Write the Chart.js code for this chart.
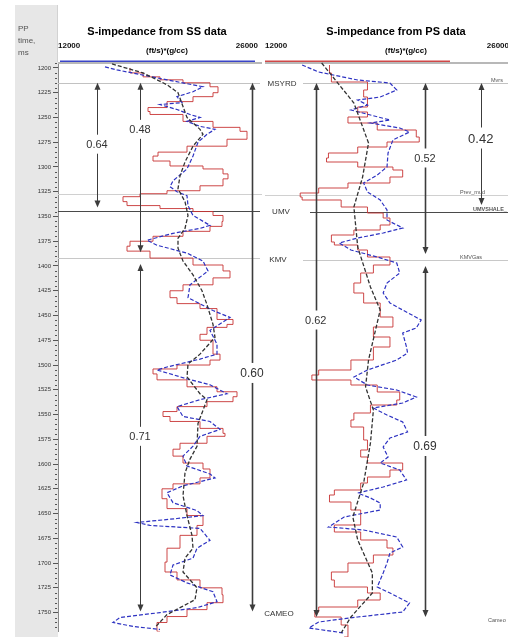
<!DOCTYPE html>
<html>
<head>
<meta charset="utf-8">
<script src="https://cdn.jsdelivr.net/npm/chart.js@4.4.1/dist/chart.umd.min.js"></script>
<style>
  html, body { margin: 0; padding: 0; background: #fff; }
  #wrap { position: relative; width: 508px; height: 637px; overflow: hidden; background: #fff; }
  canvas { position: absolute; top: 0; }
  #ssTrack { left: 0; }
  #psTrack { left: 262px; }
</style>
</head>
<body>
<div id="wrap">
  <canvas id="ssTrack" width="300" height="637"></canvas>
  <canvas id="psTrack" width="250" height="637"></canvas>
</div>
<script>
// time axis (PP time, ms) and impedance axis ticks
const timeTicks = [1200, 1225, 1250, 1275, 1300, 1325, 1350, 1375, 1400, 1425, 1450, 1475,
  1500, 1525, 1550, 1575, 1600, 1625, 1650, 1675, 1700, 1725, 1750];
const impedanceTicks = [12000, 26000];

// horizons
const horizonNames = ['MSYRD', 'Prev_mud', 'UMV', 'KMV', 'CAMEO'];
const horizonTimes = [1215, 1327, 1344, 1392, 1749];
const psHorizonNames = ['Mvrs', 'Prev_mud', 'UMVSHALE_', 'KMVGas', 'Cameo'];

// S-impedance from SS data: [impedance, time]
const ssLog = [[17040,1200],[17950,1205],[19140,1209],[20750,1212],[22640,1215],[23200,1219],[22850,1225],
  [21450,1229],[19630,1234],[18300,1240],[18440,1244],[20750,1247],[22850,1254],[24740,1260],[25230,1264],
  [25230,1269],[23830,1272],[21030,1279],[19000,1285],[18650,1289],[19840,1294],[22150,1299],[23550,1302],
  [23900,1307],[23550,1312],[21940,1319],[19630,1324],[17740,1327],[16550,1330],[16830,1335],[19140,1339],
  [21450,1342],[22850,1345],[23550,1349],[23480,1355],[22640,1360],[20750,1365],[18650,1370],[17040,1375],
  [16830,1380],[18440,1385],[21450,1392],[23550,1399],[24040,1405],[22850,1412],[20750,1419],[19840,1425],
  [20330,1432],[21940,1438],[23130,1443],[24250,1454],[23830,1459],[22430,1462],[21940,1469],[22850,1475],
  [23340,1489],[22640,1495],[20330,1500],[18650,1504],[18930,1509],[21030,1515],[23130,1522],[24530,1527],
  [24250,1532],[22430,1537],[20330,1542],[19350,1547],[19840,1552],[21940,1557],[23550,1564],[23690,1569],
  [22430,1572],[20540,1579],[20050,1585],[20750,1592],[22150,1599],[22640,1605],[21940,1614],[20050,1620],
  [19280,1625],[19630,1635],[21030,1645],[22150,1652],[21730,1662],[20540,1672],[19630,1685],[19490,1699],
  [20330,1709],[21940,1717],[23480,1725],[23550,1732],[22430,1740],[21030,1747],[19630,1754],[18930,1760],
  [19140,1769]];
const ssInverted = [[15290,1199],[16130,1202],[19630,1212],[22150,1219],[21450,1224],[20330,1229],[20680,1235],
  [19140,1237],[20330,1242],[21240,1247],[21940,1250],[21030,1254],[21940,1259],[22990,1262],[22430,1267],
  [21800,1275],[21450,1289],[21030,1302],[20050,1314],[19840,1320],[20330,1325],[21030,1329],[21100,1339],
  [21450,1349],[22640,1359],[21940,1362],[20050,1367],[18230,1374],[18930,1379],[21030,1387],[22150,1395],
  [22500,1405],[21240,1419],[21100,1432],[22850,1445],[24040,1452],[22640,1465],[23130,1479],[23130,1489],
  [21940,1494],[19630,1502],[18930,1505],[21030,1514],[22640,1520],[23830,1529],[21940,1535],[20330,1542],
  [20750,1552],[22640,1557],[23340,1565],[21940,1572],[21450,1582],[20750,1592],[21030,1602],[22640,1610],
  [22990,1614],[20750,1622],[19630,1629],[20050,1639],[21730,1647],[22150,1652],[20330,1655],[17530,1659],
  [18440,1662],[21940,1665],[22640,1677],[21730,1685],[21450,1695],[20050,1702],[19840,1712],[21030,1720],
  [22850,1729],[23130,1739],[21730,1745],[19140,1750],[16340,1755],[15850,1760],[17250,1764],[19140,1767]];
const ssTrend = [[15780,1196],[17950,1205],[19630,1217],[20400,1225],[20750,1239],[21030,1250],[21940,1262],
  [22150,1267],[21450,1279],[20890,1295],[20540,1309],[20400,1322],[20890,1335],[21100,1349],[20890,1362],
  [20400,1372],[20400,1382],[20750,1395],[21450,1409],[22080,1425],[22430,1439],[22850,1459],[22990,1472],
  [21940,1489],[21100,1499],[21030,1512],[21940,1529],[22430,1535],[21800,1559],[21730,1582],[21240,1595],
  [20890,1609],[20750,1632],[21030,1652],[21380,1672],[21450,1685],[20890,1695],[20750,1709],[21730,1725],
  [21590,1737],[19630,1752],[18790,1765]];

// S-impedance from PS data: [impedance, time]
const psLog = [[15700,1197],[15810,1205],[17880,1214],[17660,1222],[17880,1229],[17320,1239],[17880,1244],
  [16760,1249],[18440,1255],[20680,1262],[20850,1269],[19000,1274],[17320,1279],[15640,1285],[15530,1290],
  [17320,1294],[19340,1299],[19900,1302],[19170,1309],[16760,1315],[15080,1320],[14020,1325],[14130,1329],
  [16370,1332],[17880,1339],[18780,1345],[19170,1350],[18610,1357],[17100,1362],[15810,1367],[15980,1374],
  [17320,1377],[17880,1382],[19170,1389],[18220,1397],[17490,1405],[17100,1415],[17660,1425],[18610,1435],
  [19340,1449],[18220,1459],[19170,1469],[18220,1479],[16930,1492],[15080,1502],[14690,1507],[16930,1512],
  [18440,1517],[19730,1524],[19560,1532],[18050,1537],[17100,1545],[16930,1552],[17660,1559],[17880,1572],
  [17490,1582],[17880,1589],[19900,1595],[19170,1602],[17880,1609],[17490,1615],[15980,1622],[15700,1627],
  [16930,1634],[17490,1642],[17490,1650],[15980,1657],[17490,1664],[19000,1672],[19340,1680],[18220,1687],
  [16760,1695],[15810,1704],[15980,1712],[17880,1719],[18610,1725],[17320,1732],[15080,1739],[14860,1744],
  [16370,1749],[16760,1757],[16540,1769]];
const psInverted = [[14130,1197],[15080,1204],[17320,1212],[19170,1215],[19560,1222],[18610,1229],[17320,1232],
  [17880,1237],[16930,1242],[18050,1247],[19170,1252],[18050,1255],[19730,1260],[20290,1264],[19340,1272],
  [19060,1285],[19000,1299],[18440,1307],[17660,1315],[17880,1324],[18610,1332],[19000,1342],[19000,1352],
  [19900,1360],[18780,1365],[17320,1370],[16260,1375],[16930,1382],[18440,1389],[19560,1395],[19730,1405],
  [19000,1415],[18780,1425],[19170,1435],[19900,1442],[20960,1452],[20680,1460],[19900,1465],[20120,1479],
  [20180,1485],[19560,1492],[17880,1502],[17100,1509],[17880,1517],[19560,1522],[20680,1529],[19900,1535],
  [18220,1540],[19000,1547],[19900,1554],[20180,1564],[19170,1570],[18780,1579],[19060,1589],[18610,1595],
  [19730,1602],[20120,1612],[18780,1619],[17320,1625],[18050,1630],[18610,1635],[18610,1642],[16540,1649],
  [15640,1659],[17660,1662],[19560,1669],[19900,1679],[19170,1685],[19000,1695],[18780,1705],[18440,1719],
  [19170,1725],[20290,1735],[19900,1744],[17320,1749],[15080,1754],[14520,1760],[16540,1765]];
const psTrend = [[15250,1195],[17100,1235],[17940,1275],[17600,1309],[17100,1339],[17320,1379],[18050,1419],
  [18610,1442],[17940,1492],[17770,1519],[18220,1542],[18050,1575],[17660,1615],[17040,1649],[17320,1672],
  [18160,1705],[18160,1725],[16930,1749],[16370,1765]];

// correlation arrows: [impedance, from time, to time, label, label time, font size, line width]
const ssArrows = [
  [14730, 1215, 1341, '0.64', 1277, 11, 1],
  [17740, 1215, 1386, '0.48', 1262, 11, 1],
  [25580, 1215, 1749, '0.60', 1508, 12, 1.6],
  [17740, 1398, 1749, '0.71', 1572, 11, 1]
];
const psArrows = [
  [14910, 1215, 1749, '0.62', 1452, 11, 1.6],
  [21180, 1215, 1386, '0.52', 1290, 11, 1.6],
  [24380, 1215, 1337, '0.42', 1270, 13, 1],
  [21180, 1398, 1749, '0.69', 1578, 12, 1.6]
];

const FONT = '"Liberation Sans", Arial, sans-serif';
const toPts = arr => arr.map(p => ({ x: p[0], y: p[1] }));

function arrow(ctx, x, y1, y2, w) {
  const h = 7, hw = 3;
  ctx.lineWidth = w;
  ctx.beginPath(); ctx.moveTo(x, y1 + h - 1); ctx.lineTo(x, y2 - h + 1); ctx.stroke();
  ctx.beginPath(); ctx.moveTo(x, y1); ctx.lineTo(x - hw, y1 + h); ctx.lineTo(x + hw, y1 + h); ctx.closePath(); ctx.fill();
  ctx.beginPath(); ctx.moveTo(x, y2); ctx.lineTo(x - hw, y2 - h); ctx.lineTo(x + hw, y2 - h); ctx.closePath(); ctx.fill();
}

const wellTrack = {
  id: 'wellTrack',
  beforeDraw(chart, args, o) {
    const { ctx, chartArea: a } = chart;
    ctx.save();
    if (o.timeStrip) {
      ctx.fillStyle = '#e7e7e7';
      ctx.fillRect(15, 5, a.left - 15, chart.height - 5);
      ctx.fillStyle = '#d2d2d2';
      ctx.fillRect(a.left - 1, 5, 1, a.top - 5);
      ctx.fillStyle = '#555';
      ctx.font = '8px ' + FONT;
      ctx.fillText('PP', 18, 31);
      ctx.fillText('time,', 18, 43);
      ctx.fillText('ms', 18, 55);
    }
    // titles
    ctx.fillStyle = '#000';
    ctx.textAlign = 'center';
    ctx.textBaseline = 'middle';
    ctx.font = 'bold 11px ' + FONT;
    ctx.fillText(o.title, o.titleX, 32);
    ctx.font = 'bold 8px ' + FONT;
    ctx.fillText('(ft/s)*(g/cc)', o.unitX, 51);
    ctx.restore();
  },
  beforeDatasetsDraw(chart, args, o) {
    const { ctx, chartArea: a } = chart;
    const ys = chart.scales.y;
    ctx.save();
    // header separator and curve colour line
    ctx.fillStyle = '#b8b8b8';
    ctx.fillRect(a.left, a.top, o.bandRight - a.left, 2);
    ctx.fillStyle = o.headerColor;
    ctx.fillRect(a.left + o.headerFrom, a.top - 1.5, o.headerTo - o.headerFrom, 1.5);
    // horizon lines
    horizonTimes.forEach((t, i) => {
      const col = o.lineColors[i];
      if (!col) return;
      const y = Math.round(ys.getPixelForValue(t)) + 0.5;
      ctx.strokeStyle = col;
      ctx.lineWidth = 1;
      ctx.beginPath();
      ctx.moveTo(a.left + o.lineStart[i], y);
      ctx.lineTo(o.lineEnd[i], y);
      ctx.stroke();
    });
    ctx.restore();
  },
  afterDatasetsDraw(chart, args, o) {
    const { ctx, chartArea: a } = chart;
    const xs = chart.scales.x, ys = chart.scales.y;
    ctx.save();
    // minor time ticks
    if (o.timeStrip) {
      ctx.fillStyle = '#555';
      for (let t = Math.ceil(ys.min / 5) * 5; t <= ys.max; t += 5) {
        if (t % 25 === 0) continue;
        ctx.fillRect(a.left - 3, Math.round(ys.getPixelForValue(t)), 2, 1);
      }
    }
    // arrows with labels
    ctx.strokeStyle = '#3c3c3c';
    ctx.fillStyle = '#3c3c3c';
    o.arrows.forEach(ar => {
      const x = Math.round(xs.getPixelForValue(ar[0])) + 0.5;
      arrow(ctx, x, ys.getPixelForValue(ar[1]), ys.getPixelForValue(ar[2]), ar[6]);
    });
    ctx.textAlign = 'center';
    ctx.textBaseline = 'middle';
    o.arrows.forEach(ar => {
      const x = xs.getPixelForValue(ar[0]);
      const y = ys.getPixelForValue(ar[4]);
      ctx.font = ar[5] + 'px ' + FONT;
      const w = ctx.measureText(ar[3]).width + 4;
      ctx.fillStyle = '#fff';
      ctx.fillRect(x - w / 2, y - ar[5] / 2 - 4, w, ar[5] + 8);
      ctx.fillStyle = '#333';
      ctx.fillText(ar[3], x, y + 1);
    });
    // horizon names
    const base = o.labelFromRight ? a.right : a.left;
    ctx.textAlign = o.labelAlign;
    o.labels.forEach((name, i) => {
      if (!name) return;
      const y = ys.getPixelForValue(horizonTimes[i]);
      ctx.font = (o.labelBold[i] ? 'bold ' : '') + o.labelSize + 'px ' + FONT;
      ctx.fillStyle = o.labelColor;
      ctx.textBaseline = o.labelBase;
      ctx.fillText(name, base + o.labelX[i], y + o.labelDy[i]);
    });
    ctx.restore();
  }
};

function makeTrack(id, trend, inverted, log, opts) {
  return new Chart(document.getElementById(id), {
    type: 'line',
    data: {
      datasets: [
        { label: 'trend', data: toPts(trend), borderColor: '#333', borderWidth: 1.3, borderDash: [4, 2] },
        { label: 'inverted', data: toPts(inverted), borderColor: '#2d32c2', borderWidth: 1.2, borderDash: [4, 2] },
        { label: 'log', data: toPts(log), borderColor: 'rgba(200,52,52,0.9)', borderWidth: 1, stepped: 'after' }
      ]
    },
    options: {
      responsive: false,
      animation: false,
      events: [],
      layout: { padding: { left: 0, right: opts.padRight, top: 0, bottom: 0 } },
      elements: { point: { radius: 0 }, line: { tension: 0 } },
      plugins: {
        legend: { display: false },
        tooltip: { enabled: false },
        wellTrack: opts
      },
      scales: {
        x: {
          type: 'linear',
          position: 'top',
          min: 12000,
          max: 26000,
          afterBuildTicks: s => { s.ticks = impedanceTicks.map(v => ({ value: v })); },
          afterFit: s => { s.height = 62; },
          grid: { display: false },
          border: { display: false },
          ticks: {
            align: 'inner', padding: 3, autoSkip: false, maxRotation: 0,
            color: '#111', font: { family: FONT, size: 8, weight: 'bold' },
            callback: v => String(v)
          }
        },
        y: {
          type: 'linear',
          reverse: true,
          min: 1194,
          max: 1769,
          display: opts.timeStrip,
          afterBuildTicks: s => { s.ticks = timeTicks.map(v => ({ value: v })); },
          afterFit: s => { s.width = opts.timeStrip ? 58 : 0; },
          grid: { drawOnChartArea: false, tickLength: 5, tickColor: '#555' },
          border: { color: '#8a8a8a' },
          ticks: { padding: 2, color: '#333', font: { family: FONT, size: 6 }, callback: v => String(v) }
        }
      }
    },
    plugins: [wellTrack]
  });
}

makeTrack('ssTrack', ssTrend, ssInverted, ssLog, {
  timeStrip: true,
  padRight: 42,
  title: 'S-impedance from SS data',
  titleX: 157,
  unitX: 167,
  bandRight: 262,
  headerColor: '#3a44c8', headerFrom: 2, headerTo: 197,
  lineColors: ['#c2c2c2', '#d0d0d0', '#4a4a4a', '#c8c8c8', null],
  lineStart: [0, 0, 0, 0, 0],
  lineEnd: [260, 262, 260, 260, 260],
  arrows: ssArrows,
  labels: ['MSYRD', '', 'UMV', 'KMV', 'CAMEO'],
  labelFromRight: true,
  labelX: [24, 0, 23, 20, 21],
  labelDy: [1, 0, 1, 2, 2],
  labelBold: [false, false, false, false, false],
  labelSize: 8,
  labelColor: '#333',
  labelAlign: 'center',
  labelBase: 'middle'
});

makeTrack('psTrack', psTrend, psInverted, psLog, {
  timeStrip: false,
  padRight: 0,
  title: 'S-impedance from PS data',
  titleX: 134,
  unitX: 144,
  bandRight: 250,
  headerColor: '#d04848', headerFrom: 0, headerTo: 185,
  lineColors: ['#c2c2c2', '#d0d0d0', '#4a4a4a', '#c8c8c8', null],
  lineStart: [38, 0, 45, 38, 0],
  lineEnd: [250, 250, 250, 250, 250],
  arrows: psArrows,
  labels: psHorizonNames,
  labelFromRight: false,
  labelX: [226, 195, 208, 195, 223],
  labelDy: [-1, -1, -1, -1, 5],
  labelBold: [false, false, true, false, false],
  labelSize: 5.5,
  labelColor: '#555',
  labelAlign: 'left',
  labelBase: 'alphabetic'
});
</script>
</body>
</html>
